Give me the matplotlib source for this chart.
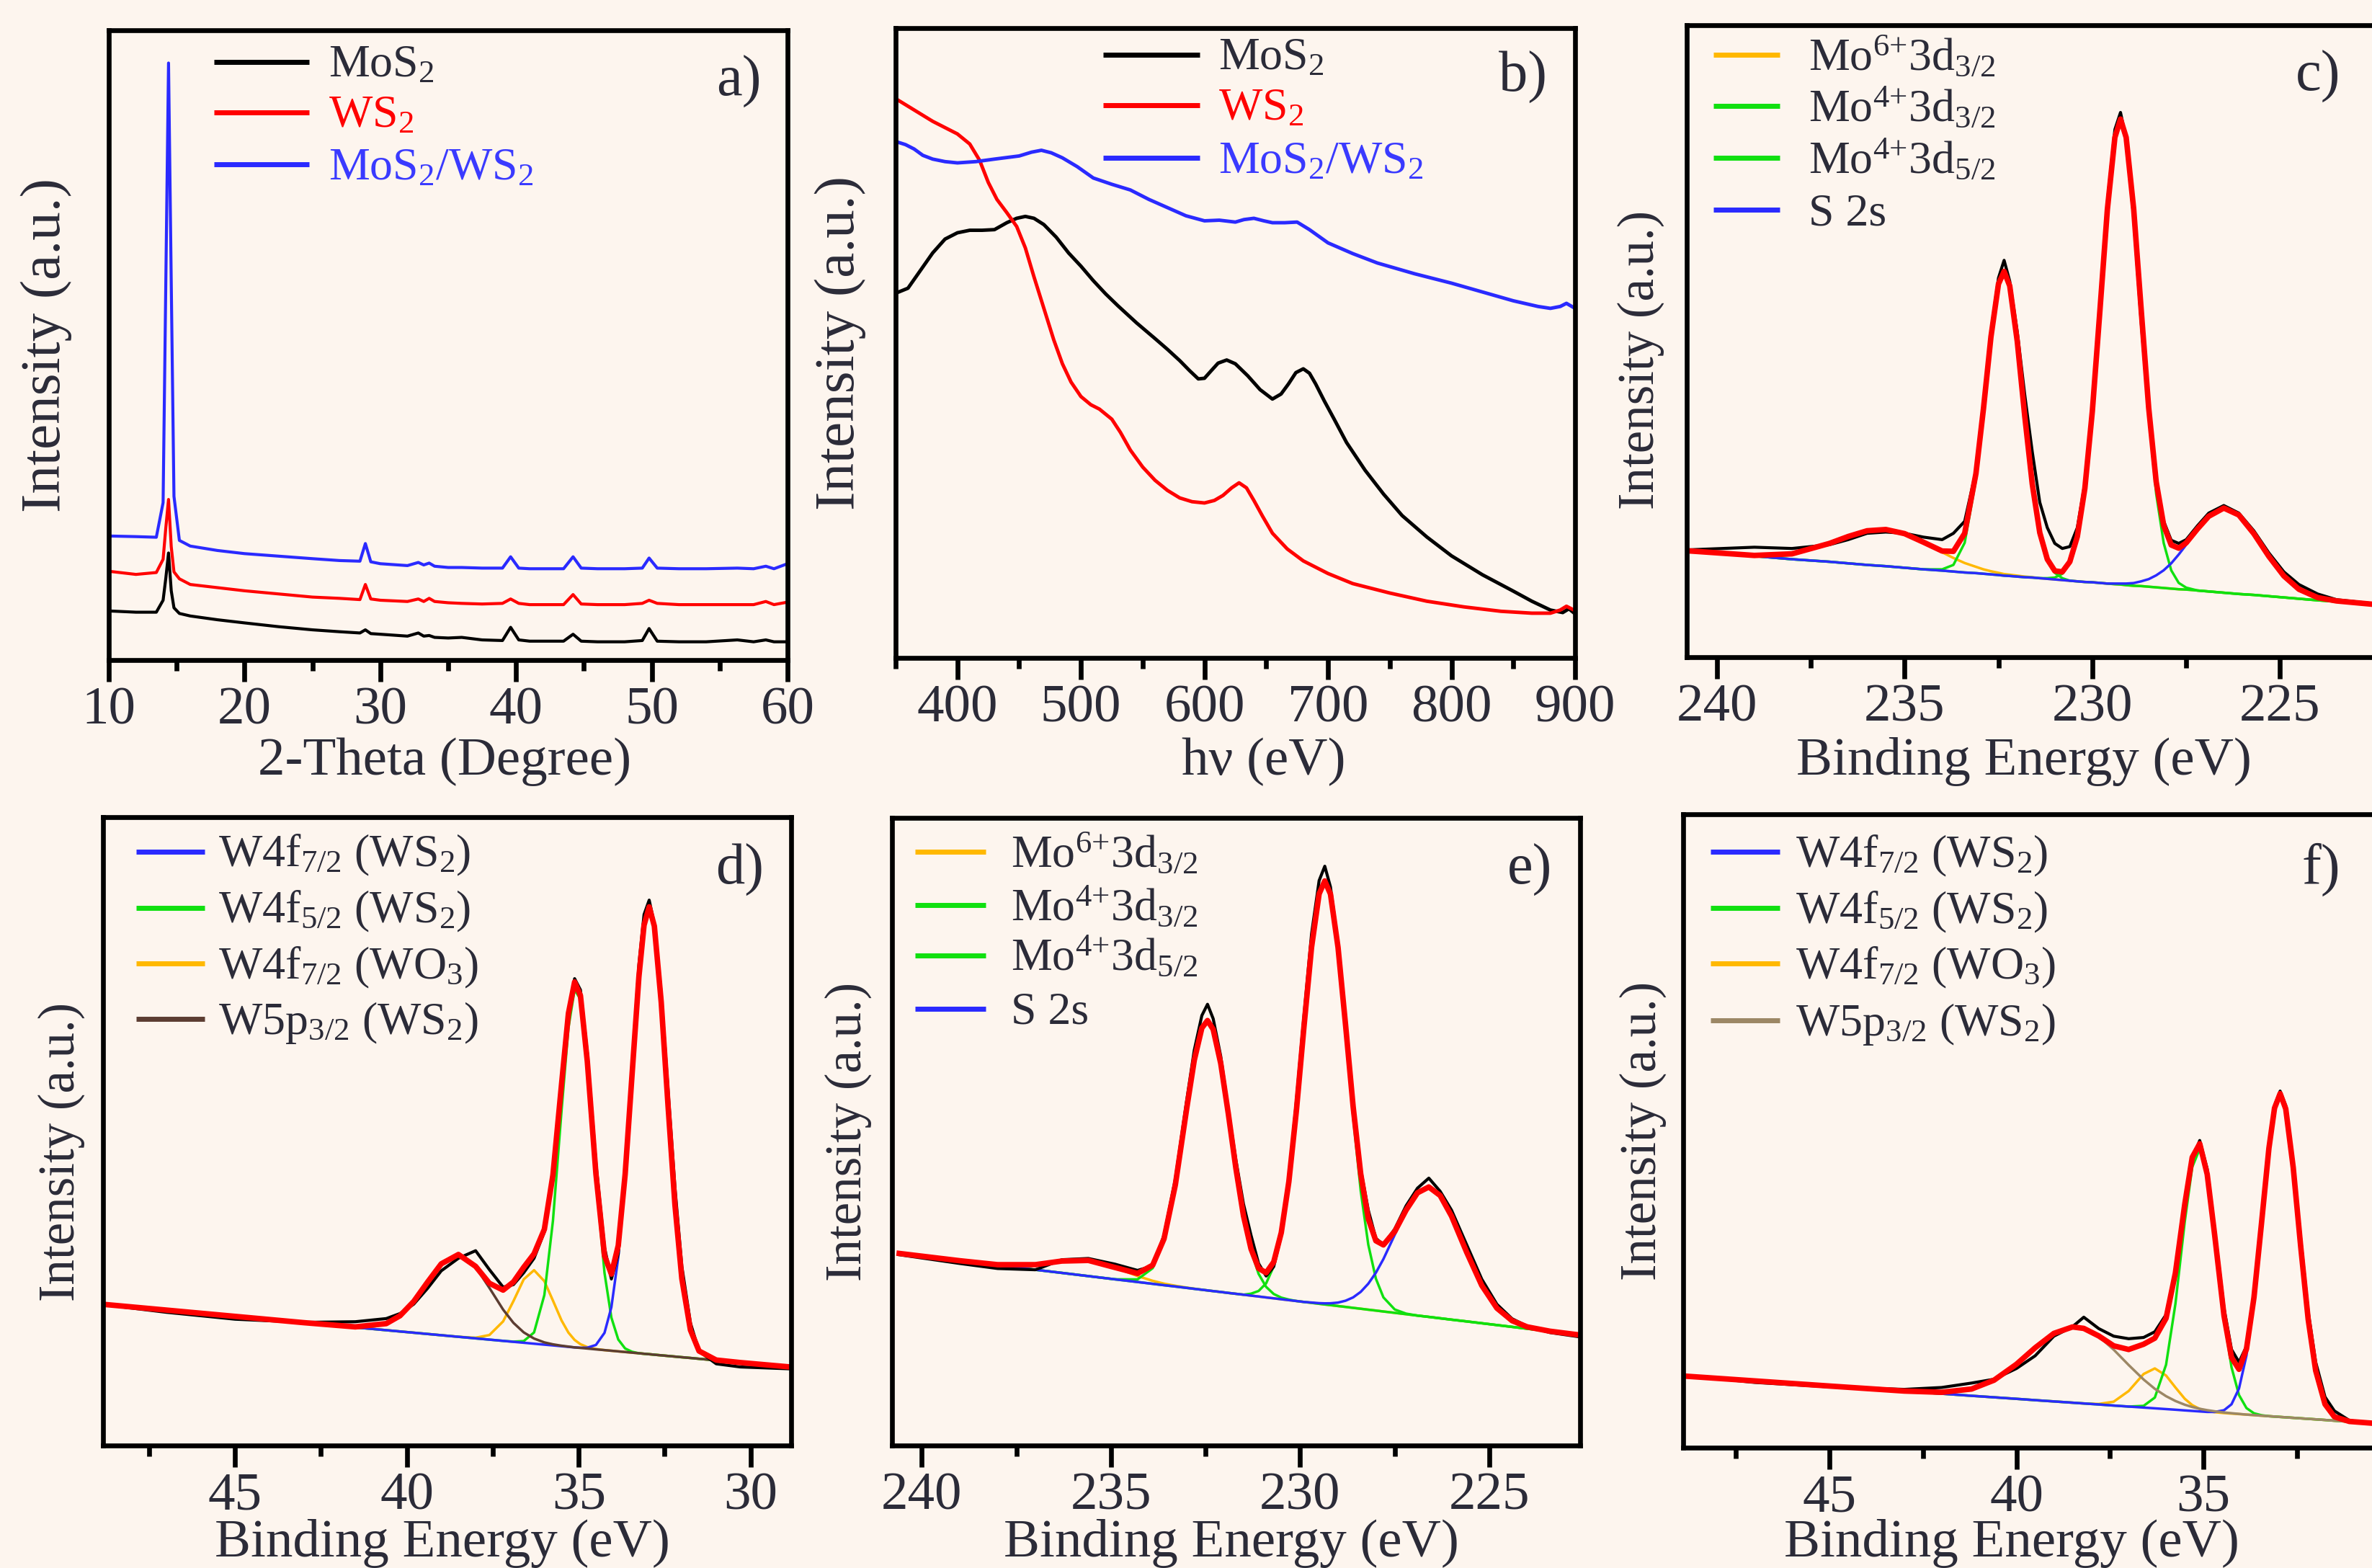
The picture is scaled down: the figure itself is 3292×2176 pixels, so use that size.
import matplotlib
matplotlib.use("Agg")
import matplotlib.pyplot as plt
from matplotlib.ticker import MultipleLocator

plt.rcParams["font.family"] = ["Liberation Serif", "DejaVu Serif"]
plt.rcParams["mathtext.fontset"] = "custom"
plt.rcParams["mathtext.rm"] = "Liberation Serif"
plt.rcParams["mathtext.it"] = "Liberation Serif:italic"
plt.rcParams["mathtext.bf"] = "Liberation Serif:bold"
plt.rcParams["mathtext.default"] = "regular"

BG = "#fdf5ee"
INK = "#2b2b38"
BLUE = "#2a2aff"
RED = "#ff0000"
GREEN = "#10e010"
ORANGE = "#ffb800"

# ---------------- a) XRD ----------------
xrd_theta = [10, 12, 13.5, 14.0, 14.2, 14.4, 14.6, 14.8, 15.2, 16, 18, 20, 22.5, 25, 27,
             28.5, 28.9, 29.3, 30, 32, 32.8, 33.2, 33.6, 34, 35, 36, 37.5, 39, 39.6, 40.2,
             41, 43.5, 44.2, 44.8, 46, 48, 49.3, 49.8, 50.4, 52, 54, 56.3, 57.5, 58.4, 59, 60]
xrd_mos2 = [7.8, 7.6, 7.6, 9.5, 13, 17, 11, 8.3, 7.4, 7.0, 6.4, 5.9, 5.3, 4.8, 4.5,
            4.3, 4.8, 4.2, 4.1, 3.8, 4.3, 3.8, 3.9, 3.6, 3.5, 3.6, 3.2, 3.1, 5.2, 3.2,
            3.0, 3.0, 4.1, 3.0, 2.9, 2.9, 3.1, 5.0, 3.0, 2.9, 2.9, 3.2, 2.9, 3.2, 2.9, 2.9]
xrd_ws2 = [14.1, 13.6, 13.9, 16, 21, 25.5, 18, 14, 12.9, 12.0, 11.5, 11.0, 10.5, 10.0, 9.8,
           9.6, 12.0, 9.7, 9.5, 9.3, 9.7, 9.3, 9.8, 9.3, 9.1, 9.0, 8.9, 9.0, 9.7, 9.0,
           8.8, 8.8, 10.4, 8.9, 8.8, 8.8, 9.0, 9.5, 9.0, 8.8, 8.8, 8.8, 8.8, 9.3, 8.8, 9.2]
xrd_mos2_ws2 = [19.7, 19.6, 19.5, 25, 60, 94.8, 60, 26, 19.0, 18.1, 17.4, 16.9, 16.5, 16.1, 15.8,
                15.7, 18.5, 15.6, 15.3, 15.0, 15.5, 15.1, 15.4, 14.9, 14.7, 14.7, 14.6, 14.6, 16.4, 14.6,
                14.5, 14.5, 16.4, 14.6, 14.5, 14.5, 14.6, 16.2, 14.6, 14.5, 14.5, 14.6, 14.5, 14.9, 14.5, 15.3]

# ---------------- b) UV-vis ----------------
uv_mos2_x = [350, 360, 370, 380, 390, 400, 410, 420, 430, 440, 448, 455, 462, 470, 480, 490,
             500, 510, 520, 530, 545, 560, 570, 580, 588, 595, 600, 605, 611, 618, 625, 635,
             645, 655, 662, 668, 674, 680, 685, 690, 697, 705, 715, 730, 745, 760, 780, 800,
             825, 850, 865, 880, 890, 895, 900]
uv_mos2_y = [57.9, 58.7, 61.5, 64.3, 66.5, 67.5, 67.9, 67.9, 68.0, 69.1, 69.8, 70.1, 69.8, 68.8, 66.8, 64.3,
             62.2, 59.9, 57.8, 55.9, 53.2, 50.7, 49.0, 47.2, 45.6, 44.3, 44.4, 45.5, 46.8, 47.3, 46.7, 44.8,
             42.6, 41.1, 41.9, 43.5, 45.3, 45.9, 45.2, 43.5, 40.8, 37.9, 34.2, 29.8, 26.0, 22.6, 19.2, 16.2,
             13.2, 10.6, 9.0, 7.6, 7.2, 7.8, 7.0]
uv_ws2_x = [350, 365, 380, 400, 410, 418, 425, 432, 440, 448, 455, 462, 470, 478, 485, 492,
            500, 508, 515, 525, 532, 540, 550, 560, 570, 580, 590, 600, 608, 615, 622, 628,
            634, 640, 647, 655, 667, 680, 700, 720, 750, 780, 810, 840, 865, 880, 888, 893, 900]
uv_ws2_y = [88.8, 87.0, 85.2, 83.2, 81.6, 79.0, 75.5, 72.8, 70.7, 68.5, 65.1, 60.5, 55.5, 50.5, 46.7, 43.8,
            41.5, 40.2, 39.5, 37.9, 35.8, 33.0, 30.3, 28.2, 26.6, 25.4, 24.8, 24.6, 25.0, 25.8, 27.0, 27.8,
            27.0, 25.0, 22.5, 19.8, 17.3, 15.4, 13.4, 11.8, 10.3, 9.0, 8.1, 7.4, 7.1, 7.1, 7.6, 8.2, 7.5]
uv_hetero_x = [350, 358, 365, 372, 380, 390, 400, 415, 430, 450, 460, 468, 476, 485, 497, 510,
               525, 540, 555, 570, 585, 600, 612, 625, 632, 640, 648, 655, 665, 675, 685, 700,
               720, 740, 770, 800, 825, 850, 870, 880, 888, 893, 900]
uv_hetero_y = [82.0, 81.5, 80.8, 79.8, 79.2, 78.8, 78.6, 78.8, 79.2, 79.7, 80.3, 80.6, 80.2, 79.4, 78.0, 76.2,
               75.2, 74.3, 72.8, 71.5, 70.2, 69.4, 69.5, 69.2, 69.6, 69.8, 69.4, 69.1, 69.1, 69.2, 68.0, 65.9,
               64.2, 62.7, 61.0, 59.5, 58.1, 56.7, 55.8, 55.5, 55.8, 56.3, 55.5]

# ---------------- c) Mo 3d, MoS2 ----------------
c_be = [240.7, 239, 238, 237, 236.5, 236, 235.5, 235, 234.5, 234, 233.7, 233.4, 233.1, 232.9,
        232.7, 232.5, 232.35, 232.2, 232.0, 231.8, 231.6, 231.4, 231.2, 231.0, 230.8, 230.6,
        230.4, 230.2, 230.0, 229.8, 229.6, 229.4, 229.25, 229.1, 228.9, 228.7, 228.5, 228.3,
        228.1, 227.9, 227.7, 227.5, 227.2, 226.9, 226.5, 226.1, 225.7, 225.3, 224.9, 224.5,
        224.0, 223.5, 222.4]
c_data = [17.0, 17.4, 17.2, 17.8, 18.6, 19.6, 19.8, 19.6, 19.0, 18.6, 19.6, 21.5, 29.5, 40.0,
          51.5, 60.0, 62.8, 59.5, 51.5, 41.5, 32.5, 24.5, 20.5, 18.0, 17.2, 17.5,
          20.5, 27.5, 40.0, 56.0, 72.0, 83.5, 86.2, 82.0, 69.5, 53.0, 38.5, 27.5,
          21.5, 18.5, 18.0, 18.6, 20.8, 22.8, 24.0, 22.8, 20.0, 16.5, 13.5, 11.5,
          10.0, 9.1, 8.4]
c_fit = [16.8, 16.1, 16.35, 18.0, 19.1, 20.0, 20.2, 19.55, 18.2, 16.8, 16.75, 19.6, 29.05, 39.3,
         50.7, 59.05, 61.05, 58.75, 50.0, 38.15, 27.4, 19.7, 15.5, 13.65, 13.5, 15.1,
         19.1, 26.7, 38.95, 54.75, 70.85, 82.25, 85.15, 82.25, 70.95, 55.0, 39.45, 27.75,
         20.85, 17.75, 17.25, 18.1, 20.3, 22.3, 23.6, 22.5, 19.55, 15.95, 12.85, 10.75,
         9.43, 8.9, 8.3]
c_mo6 = [16.8, 16.1, 16.35, 18.0, 19.1, 20.0, 20.2, 19.55, 18.2, 16.6, 15.7, 14.9, 14.3, 13.9,
         13.6, 13.35, 13.15, 13.05, 12.9, 12.75, 12.65, 12.5, 12.4, 12.3, 12.2, 12.1,
         12.0, 11.9, 11.85, 11.75, 11.65, 11.55, 11.5, 11.4, 11.3, 11.25, 11.15, 11.05,
         10.95, 10.85, 10.75, 10.7, 10.55, 10.4, 10.2, 10.0, 9.85, 9.65, 9.45, 9.25,
         9.0, 8.8, 8.3]
c_mo4_32 = [16.8, 16.0, 15.5, 15.1, 14.85, 14.6, 14.4, 14.15, 13.9, 13.9, 14.6, 18.1, 28.05, 38.6,
            50.2, 58.7, 60.8, 58.55, 49.85, 38.05, 27.35, 19.7, 15.4, 13.35, 12.5, 12.1,
            12.0, 11.9, 11.85, 11.75, 11.65, 11.55, 11.5, 11.4, 11.3, 11.25, 11.15, 11.05,
            10.95, 10.85, 10.75, 10.7, 10.55, 10.4, 10.2, 10.0, 9.85, 9.65, 9.45, 9.25,
            9.0, 8.8, 8.3]
c_mo4_52 = [16.8, 16.0, 15.5, 15.1, 14.85, 14.6, 14.4, 14.15, 13.9, 13.7, 13.55, 13.4, 13.3, 13.2,
            13.1, 13.0, 12.9, 12.85, 12.75, 12.65, 12.6, 12.5, 12.5, 12.6, 13.2, 15.0,
            19.1, 26.7, 38.95, 54.75, 70.85, 82.15, 85.0, 82.0, 70.5, 54.25, 38.25, 25.85,
            18.05, 13.75, 11.75, 11.0, 10.55, 10.4, 10.2, 10.0, 9.85, 9.65, 9.45, 9.25,
            9.0, 8.8, 8.3]
c_s2s = [16.8, 16.0, 15.5, 15.1, 14.85, 14.6, 14.4, 14.15, 13.9, 13.7, 13.55, 13.4, 13.3, 13.2,
         13.1, 13.0, 12.9, 12.85, 12.75, 12.65, 12.6, 12.5, 12.4, 12.3, 12.2, 12.1,
         12.0, 11.9, 11.85, 11.75, 11.65, 11.65, 11.65, 11.65, 11.73, 12.0, 12.35, 12.95,
         13.75, 14.85, 16.25, 17.8, 20.25, 22.3, 23.6, 22.5, 19.55, 15.95, 12.85, 10.75,
         9.43, 8.9, 8.3]

# ---------------- d) W 4f, WS2 ----------------
d_be = [48.8, 47, 45, 43, 41.5, 40.6, 40.2, 39.8, 39.4, 39.0, 38.5, 38.0, 37.6, 37.2, 36.9,
        36.6, 36.3, 36.0, 35.75, 35.5, 35.3, 35.12, 34.95, 34.75, 34.5, 34.25, 34.05, 33.85,
        33.65, 33.45, 33.25, 33.1, 32.95, 32.8, 32.6, 32.4, 32.2, 32.0, 31.75, 31.5, 31.0,
        30.3, 28.85]
d_data = [22.4, 21.2, 20.1, 19.6, 19.7, 20.2, 21.0, 22.5, 25.0, 27.8, 29.8, 31.0, 28.0, 25.2, 25.6,
          27.5, 29.8, 34.0, 43.5, 57.5, 69.0, 74.3, 72.5, 62.5, 45.0, 31.5, 26.5, 30.5,
          43.0, 60.0, 76.5, 84.5, 86.8, 83.0, 72.0, 56.5, 41.0, 28.5, 19.5, 15.0, 13.0,
          12.5, 12.2]
d_fit = [22.45, 21.55, 20.55, 19.55, 18.88, 19.4, 20.65, 22.93, 25.99, 28.91, 30.4, 28.51, 25.82, 24.73, 26.03,
         28.37, 30.51, 34.41, 43.08, 57.48, 68.76, 73.77, 71.6, 61.1, 43.26, 30.21, 27.28, 31.83,
         43.14, 58.92, 74.58, 82.8, 85.73, 82.65, 70.55, 53.95, 38.25, 26.55, 18.38, 15.04, 13.6,
         13.2, 12.5]
d_f72_ws2 = [22.45, 21.55, 20.55, 19.55, 18.8, 18.35, 18.15, 17.95, 17.75, 17.55, 17.3, 17.05, 16.85, 16.65, 16.5,
             16.35, 16.2, 16.05, 15.93, 15.8, 15.7, 15.61, 15.56, 15.57, 16.0, 17.93, 22.01, 29.94,
             42.58, 58.78, 74.58, 82.8, 85.73, 82.65, 70.55, 53.95, 38.25, 26.55, 18.38, 15.04, 13.6,
             13.2, 12.5]
d_f52_ws2 = [22.45, 21.55, 20.55, 19.55, 18.8, 18.35, 18.15, 17.95, 17.75, 17.55, 17.3, 17.05, 16.85, 16.65, 16.53,
             16.62, 17.99, 23.95, 35.78, 53.3, 66.45, 72.58, 70.98, 60.73, 42.5, 27.46, 20.35, 16.87,
             15.44, 14.92, 14.68, 14.6, 14.53, 14.45, 14.35, 14.25, 14.15, 14.05, 13.93, 13.8, 13.55,
             13.2, 12.5]
d_f72_wo3 = [22.45, 21.55, 20.55, 19.55, 18.8, 18.35, 18.15, 17.95, 17.75, 17.55, 17.3, 17.15, 17.58, 19.75, 22.98,
             26.45, 27.9, 26.15, 23.06, 19.9, 17.97, 16.8, 16.12, 15.66, 15.36, 15.18, 15.08, 14.98,
             14.88, 14.78, 14.68, 14.6, 14.53, 14.45, 14.35, 14.25, 14.15, 14.05, 13.93, 13.8, 13.55,
             13.2, 12.5]
d_p32_ws2 = [22.45, 21.55, 20.55, 19.55, 18.88, 19.4, 20.65, 22.93, 25.99, 28.91, 30.4, 28.41, 25.09, 21.63, 19.52,
             18.0, 17.02, 16.41, 16.1, 15.88, 15.74, 15.61, 15.53, 15.43, 15.3, 15.18, 15.08, 14.98,
             14.88, 14.78, 14.68, 14.6, 14.53, 14.45, 14.35, 14.25, 14.15, 14.05, 13.93, 13.8, 13.55,
             13.2, 12.5]

# ---------------- e) Mo 3d, MoS2/WS2 ----------------
e_be = [240.6, 239, 238, 237, 236.3, 235.6, 234.9, 234.3, 233.9, 233.6, 233.3, 233.0, 232.8,
        232.6, 232.45, 232.3, 232.1, 231.9, 231.7, 231.5, 231.3, 231.1, 230.9, 230.7, 230.5,
        230.3, 230.1, 229.9, 229.7, 229.5, 229.35, 229.2, 229.0, 228.8, 228.6, 228.4, 228.2,
        228.0, 227.8, 227.5, 227.2, 226.9, 226.6, 226.3, 226.0, 225.6, 225.2, 224.8, 224.4,
        224.0, 223.4, 222.6]
e_data = [30.4, 29.0, 28.2, 28.0, 29.6, 29.8, 28.9, 27.9, 28.6, 33.5, 42.5, 55.0, 63.0,
          68.5, 70.3, 68.0, 62.0, 53.5, 45.5, 38.5, 33.5, 29.0, 27.0, 28.5, 33.5,
          42.5, 55.0, 68.5, 81.5, 90.0, 92.3, 89.0, 80.0, 67.0, 54.0, 44.0, 37.5,
          33.0, 32.0, 34.5, 38.2, 41.0, 42.6, 40.5, 37.5, 32.0, 26.5, 22.5, 20.2,
          19.0, 18.0, 17.3]
e_fit = [30.6, 29.44, 28.81, 28.81, 29.39, 29.49, 28.37, 27.42, 28.73, 32.93, 41.55, 53.71, 61.39,
         66.52, 67.71, 66.3, 60.86, 52.86, 44.17, 36.63, 31.33, 28.23, 27.52, 29.24, 33.92,
         42.03, 53.4, 66.76, 79.38, 87.89, 89.95, 87.87, 79.37, 66.95, 53.95, 43.26, 36.14,
         32.62, 31.96, 34.11, 37.51, 40.26, 41.19, 39.83, 36.55, 30.8, 25.5, 21.88, 19.89,
         18.9, 18.21, 17.6]
e_mo6 = [30.6, 29.44, 28.81, 28.81, 29.39, 29.49, 28.37, 27.0, 26.24, 25.79, 25.45, 25.16, 24.99,
         24.82, 24.71, 24.6, 24.46, 24.31, 24.17, 24.03, 23.88, 23.74, 23.59, 23.45, 23.3,
         23.16, 23.02, 22.87, 22.73, 22.58, 22.47, 22.37, 22.22, 22.08, 21.93, 21.79, 21.64,
         21.5, 21.35, 21.14, 20.92, 20.7, 20.49, 20.27, 20.05, 19.77, 19.48, 19.19, 18.9,
         18.61, 18.18, 17.6]
e_mo4_32 = [30.6, 29.44, 28.72, 28.0, 27.5, 26.99, 26.48, 26.47, 28.25, 32.68, 41.43, 53.66, 61.36,
            66.52, 67.71, 66.3, 60.86, 52.86, 44.17, 36.63, 31.02, 27.35, 25.27, 24.14, 23.56,
            23.25, 23.02, 22.87, 22.73, 22.58, 22.47, 22.37, 22.22, 22.08, 21.93, 21.79, 21.64,
            21.5, 21.35, 21.14, 20.92, 20.7, 20.49, 20.27, 20.05, 19.77, 19.48, 19.19, 18.9,
            18.61, 18.18, 17.6]
e_mo4_52 = [30.6, 29.44, 28.72, 28.0, 27.5, 26.99, 26.48, 26.05, 25.76, 25.54, 25.33, 25.11, 24.96,
            24.82, 24.71, 24.6, 24.46, 24.31, 24.17, 24.03, 24.19, 24.62, 25.84, 28.55, 33.66,
            41.94, 53.37, 66.75, 79.33, 87.79, 89.77, 87.58, 78.82, 65.96, 52.28, 40.57, 32.0,
            26.6, 23.6, 21.67, 21.01, 20.7, 20.49, 20.27, 20.05, 19.77, 19.48, 19.19, 18.9,
            18.61, 18.18, 17.6]
e_s2s = [30.6, 29.44, 28.72, 28.0, 27.5, 26.99, 26.48, 26.05, 25.76, 25.54, 25.33, 25.11, 24.96,
         24.82, 24.71, 24.6, 24.46, 24.31, 24.17, 24.03, 23.88, 23.74, 23.59, 23.45, 23.3,
         23.16, 23.02, 22.87, 22.78, 22.68, 22.65, 22.66, 22.77, 23.07, 23.6, 24.48, 25.78,
         27.52, 29.71, 33.58, 37.42, 40.26, 41.19, 39.83, 36.55, 30.8, 25.5, 21.88, 19.89,
         18.9, 18.21, 17.6]

# ---------------- f) W 4f, MoS2/WS2 ----------------
f_be = [48.85, 47, 45, 43, 42, 41.2, 40.6, 40.0, 39.5, 39.0, 38.5, 38.2, 37.8, 37.4, 37.0,
        36.6, 36.3, 36.0, 35.75, 35.5, 35.3, 35.1, 34.9, 34.7, 34.45, 34.25, 34.05, 33.85,
        33.65, 33.45, 33.25, 33.1, 32.95, 32.8, 32.6, 32.4, 32.2, 32.0, 31.75, 31.5, 31.1, 30.3]
f_data = [11.4, 10.3, 9.6, 9.2, 9.5, 10.2, 10.8, 12.5, 14.5, 17.6, 19.1, 20.6, 18.8, 17.6, 17.2,
          17.4, 18.3, 21.0, 28.0, 38.5, 45.5, 48.5, 44.0, 34.5, 22.0, 15.5, 13.5, 16.0,
          24.0, 35.5, 47.5, 54.0, 56.3, 54.0, 45.0, 33.0, 21.5, 13.5, 8.0, 5.8, 4.3, 3.6]
f_fit = [11.29, 10.54, 9.73, 8.94, 8.74, 9.26, 10.65, 13.17, 15.77, 18.04, 19.06, 18.83, 17.64, 16.08, 15.5,
         16.33, 17.29, 20.43, 27.59, 38.42, 45.84, 47.99, 43.16, 33.56, 20.81, 14.23, 12.37, 15.59,
         23.7, 35.32, 47.27, 53.61, 55.9, 53.49, 44.21, 31.73, 20.25, 12.17, 6.86, 4.88, 4.14, 3.78]
f_f72_ws2 = [11.29, 10.54, 9.73, 8.92, 8.52, 8.19, 7.95, 7.71, 7.5, 7.3, 7.1, 6.98, 6.82, 6.65, 6.49,
             6.33, 6.21, 6.09, 5.99, 5.88, 5.8, 5.72, 5.64, 5.64, 5.91, 6.85, 9.33, 14.56,
             23.41, 35.25, 47.27, 53.61, 55.9, 53.49, 44.21, 31.73, 20.25, 12.17, 6.86, 4.88, 4.14, 3.78]
f_f52_ws2 = [11.29, 10.54, 9.73, 8.92, 8.52, 8.19, 7.95, 7.71, 7.5, 7.3, 7.1, 6.98, 6.82, 6.65, 6.49,
             6.6, 7.91, 13.09, 22.69, 35.68, 44.3, 47.18, 42.74, 33.26, 20.26, 12.7, 8.31, 6.25,
             5.43, 5.12, 4.97, 4.91, 4.85, 4.79, 4.71, 4.63, 4.55, 4.47, 4.37, 4.26, 4.1, 3.78]
f_f72_wo3 = [11.29, 10.54, 9.73, 8.92, 8.52, 8.19, 7.95, 7.71, 7.5, 7.3, 7.1, 6.98, 6.9, 7.26, 8.94,
             11.63, 12.51, 11.39, 9.51, 7.72, 6.72, 6.11, 5.78, 5.6, 5.46, 5.38, 5.3, 5.22,
             5.14, 5.05, 4.97, 4.91, 4.85, 4.79, 4.71, 4.63, 4.55, 4.47, 4.37, 4.26, 4.1, 3.78]
f_p32_ws2 = [11.29, 10.54, 9.73, 8.94, 8.74, 9.26, 10.65, 13.17, 15.77, 18.04, 19.06, 18.83, 17.56, 15.47, 13.05,
             10.76, 9.29, 8.13, 7.37, 6.78, 6.42, 6.14, 5.92, 5.74, 5.56, 5.44, 5.33, 5.22,
             5.14, 5.05, 4.97, 4.91, 4.85, 4.79, 4.71, 4.63, 4.55, 4.47, 4.37, 4.26, 4.1, 3.78]

mo_labels = ["Mo$^{6{+}}$3d$_{3/2}$", "Mo$^{4{+}}$3d$_{3/2}$", "Mo$^{4{+}}$3d$_{5/2}$", "S 2s"]
w_labels = ["W4f$_{7/2}$ (WS$_2$)", "W4f$_{5/2}$ (WS$_2$)", "W4f$_{7/2}$ (WO$_3$)", "W5p$_{3/2}$ (WS$_2$)"]
sample_labels = ["MoS$_2$", "WS$_2$", "MoS$_2$/WS$_2$"]

W, H = 3292, 2176
fig = plt.figure(figsize=(W / 100, H / 100), dpi=100, facecolor=BG)


def make_axes(box, xlim, major, minor):
    left, top, right, bottom = box
    ax = fig.add_axes([left / W, 1 - bottom / H, (right - left) / W, (bottom - top) / H])
    ax.set_facecolor(BG)
    for s in ax.spines.values():
        s.set_linewidth(4.8)
        s.set_color("black")
    ax.set_xlim(*xlim)
    ax.set_ylim(0, 100)
    ax.set_yticks([])
    ax.xaxis.set_major_locator(MultipleLocator(major))
    ax.xaxis.set_minor_locator(MultipleLocator(minor))
    ax.tick_params(axis="x", which="major", direction="out", length=21.6, width=4.8,
                   pad=5, labelsize=54, labelcolor=INK)
    ax.tick_params(axis="x", which="minor", direction="out", length=10.8, width=4.8)
    return ax


def labels(ax, xlabel, xl_pos, yl_pos, yl_size, tag, tag_pos):
    # x label placed by its baseline, y label by its centre
    ax.set_xlabel(xlabel, fontsize=54, color=INK)
    ax.xaxis.set_label_coords(*xl_pos)
    ax.xaxis.label.set_va("baseline")
    ax.set_ylabel("Intensity (a.u.)", fontsize=yl_size, color=INK)
    ax.yaxis.set_label_coords(*yl_pos)
    ax.yaxis.label.set_va("center")
    ax.text(tag_pos[0], tag_pos[1], tag, transform=ax.transAxes, ha="right",
            va="baseline", fontsize=58, color=INK)


def key(ax, names, colors, text_colors, x0, x1, xt, ys):
    for name, c, tc, y in zip(names, colors, text_colors, ys):
        ax.plot([x0, x1], [y, y], color=c, lw=5, transform=ax.transAxes,
                solid_capstyle="butt", clip_on=False)
        ax.text(xt, y - 0.024, name, transform=ax.transAxes, ha="left",
                va="baseline", fontsize=46, color=tc)


# a) XRD
ax = make_axes((151, 42, 1093, 916), (10, 60), 10, 5)
ax.plot(xrd_theta, xrd_mos2, color="black", lw=3)
ax.plot(xrd_theta, xrd_ws2, color=RED, lw=3)
ax.plot(xrd_theta, xrd_mos2_ws2, color=BLUE, lw=3)
labels(ax, "2-Theta (Degree)", (0.495, -0.182), (-0.092, 0.5), 57, "a)", (0.961, 0.896))
key(ax, sample_labels, ["black", RED, BLUE], [INK, RED, "#3a3aff"],
    0.155, 0.295, 0.324, [0.950, 0.870, 0.787])

# b) UV-vis
ax = make_axes((1243, 39, 2186, 913), (350, 900), 100, 50)
ax.plot(uv_mos2_x, uv_mos2_y, color="black", lw=3.5)
ax.plot(uv_ws2_x, uv_ws2_y, color=RED, lw=3.5)
ax.plot(uv_hetero_x, uv_hetero_y, color=BLUE, lw=3.5)
labels(ax, "h\u03bd (eV)", (0.542, -0.185), (-0.081, 0.5), 57, "b)", (0.959, 0.90))
key(ax, sample_labels, ["black", RED, BLUE], [INK, RED, "#3a3aff"],
    0.305, 0.447, 0.475, [0.958, 0.878, 0.794])

# c) Mo 3d of MoS2
ax = make_axes((2341, 35, 3300, 912), (240.8, 222.4), 5, 2.5)
ax.plot(c_be, c_mo6, color=ORANGE, lw=2.5)
ax.plot(c_be, c_mo4_32, color=GREEN, lw=2.5)
ax.plot(c_be, c_mo4_52, color=GREEN, lw=2.5)
ax.plot(c_be, c_s2s, color=BLUE, lw=2.5)
ax.plot(c_be, c_data, color="black", lw=3)
ax.plot(c_be, c_fit, color=RED, lw=5.5)
labels(ax, "Binding Energy (eV)", (0.488, -0.186), (-0.066, 0.47), 51, "c)", (0.946, 0.896))
key(ax, mo_labels, [ORANGE, GREEN, GREEN, BLUE], [INK] * 4,
    0.0386, 0.1345, 0.176, [0.953, 0.872, 0.790, 0.708])

# d) W 4f of WS2
ax = make_axes((143, 1134, 1098, 2006), (48.84, 28.82), 5, 2.5)
ax.plot(d_be, d_f72_wo3, color=ORANGE, lw=2.5)
ax.plot(d_be, d_f52_ws2, color=GREEN, lw=2.5)
ax.plot(d_be, d_f72_ws2, color=BLUE, lw=2.5)
ax.plot(d_be, d_p32_ws2, color="#5c3d32", lw=2.5)
ax.plot(d_be, d_data, color="black", lw=3)
ax.plot(d_be, d_fit, color=RED, lw=5.5)
labels(ax, "Binding Energy (eV)", (0.493, -0.177), (-0.060, 0.467), 51, "d)", (0.96, 0.893))
key(ax, w_labels, [BLUE, GREEN, ORANGE, "#5c3d32"], [INK] * 4,
    0.048, 0.148, 0.168, [0.945, 0.856, 0.767, 0.679])

# e) Mo 3d of MoS2/WS2
ax = make_axes((1238, 1135, 2193, 2006), (240.79, 222.6), 5, 2.5)
ax.plot(e_be, e_mo6, color=ORANGE, lw=2.5)
ax.plot(e_be, e_mo4_32, color=GREEN, lw=2.5)
ax.plot(e_be, e_mo4_52, color=GREEN, lw=2.5)
ax.plot(e_be, e_s2s, color=BLUE, lw=2.5)
ax.plot(e_be, e_data, color="black", lw=3)
ax.plot(e_be, e_fit, color=RED, lw=5.5)
labels(ax, "Binding Energy (eV)", (0.493, -0.177), (-0.064, 0.5), 51, "e)", (0.959, 0.894))
key(ax, mo_labels, [ORANGE, GREEN, GREEN, BLUE], [INK] * 4,
    0.0335, 0.136, 0.173, [0.946, 0.861, 0.781, 0.696])

# f) W 4f of MoS2/WS2
ax = make_axes((2336, 1130, 3300, 2009), (48.91, 30.34), 5, 2.5)
ax.plot(f_be, f_f72_wo3, color=ORANGE, lw=2.5)
ax.plot(f_be, f_f52_ws2, color=GREEN, lw=2.5)
ax.plot(f_be, f_f72_ws2, color=BLUE, lw=2.5)
ax.plot(f_be, f_p32_ws2, color="#9c8765", lw=2.5)
ax.plot(f_be, f_data, color="black", lw=3)
ax.plot(f_be, f_fit, color=RED, lw=5.5)
labels(ax, "Binding Energy (eV)", (0.473, -0.172), (-0.058, 0.5), 51, "f)", (0.946, 0.89))
key(ax, w_labels, [BLUE, GREEN, ORANGE, "#9c8765"], [INK] * 4,
    0.039, 0.139, 0.162, [0.941, 0.852, 0.764, 0.675])

fig.savefig("out.png", dpi=100, facecolor=BG)
